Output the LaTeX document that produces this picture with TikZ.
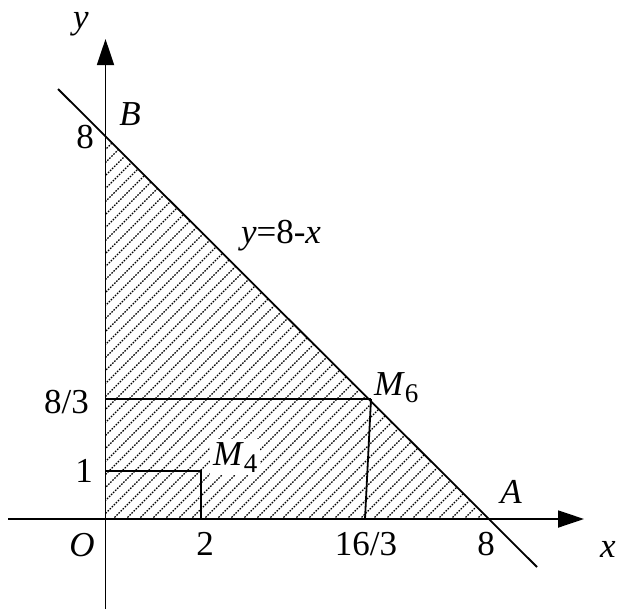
\documentclass[tikz,border=0pt]{standalone}
\usepackage{fontspec}
\setmainfont{Liberation Serif}
\usetikzlibrary{arrows.meta}
\tikzset{
  axis/.style={line width=1.8pt,-{Triangle[length=26pt,width=17pt]}},
  edge/.style={line width=1.8pt},
  hatchline/.style={line width=1.2pt,dash pattern=on 1.6pt off 1.3pt},
  lbl/.style={font=\fontsize{35pt}{36pt}\selectfont,inner sep=0pt},
}
\newcommand{\subsc}[1]{\raisebox{-7pt}{\fontsize{27pt}{27pt}\selectfont #1}}
\begin{document}
\begin{tikzpicture}[x=1pt,y=-1pt]
\fill[white] (0,0) rectangle (617,611);
\useasboundingbox (0,0) rectangle (617,611);
% key points
\coordinate (O) at (105.5,519);
\coordinate (A) at (488,519);
\coordinate (B) at (105.5,136.5);
\coordinate (M6) at (371,399);
\coordinate (K) at (105.5,399);
\coordinate (F) at (365,519);
\coordinate (P1) at (105.5,471);
\coordinate (P2) at (201,471);
\coordinate (P3) at (201,519);
\coordinate (Xs) at (8,519);
\coordinate (Xe) at (584,519);
\coordinate (Ys) at (105.5,609);
\coordinate (Ye) at (105.5,39);
\coordinate (Ls) at (58,89);
\coordinate (Le) at (537,567);
% hatching
\begin{scope}
\clip (O) -- (A) -- (B) -- cycle;
\foreach \c in {242,255,...,1010}
  \draw[hatchline] (\c-700,700) -- (\c,0);
\end{scope}
% M4 label with white background
\node[lbl,fill=white,inner sep=3pt,anchor=base west] (m4) at (210,465) {\textit{M}\subsc{4}};
% axes
\draw[axis] (Xs) -- (Xe);
\draw[axis] (Ys) -- (Ye);
% lines
\draw[edge] (Ls) -- (Le);
\draw[edge] (K) -- (M6);
\draw[edge] (M6) -- (F);
\draw[edge] (P1) -- (P2) -- (P3);
% labels
\node[lbl,anchor=base] (ly) at (81,28) {\textit{y}};
\node[lbl,anchor=base] (lx) at (608,557) {\textit{x}};
\node[lbl,anchor=base] (lB) at (130,125) {\textit{B}};
\node[lbl,anchor=base] (lA) at (511,503) {\textit{A}};
\node[lbl,anchor=base] (lO) at (82,556) {\textit{O}};
\node[lbl,anchor=base] (l8y) at (85,148) {8};
\node[lbl,anchor=base east] (l83) at (89,413) {8/3};
\node[lbl,anchor=base] (l1) at (84,482) {1};
\node[lbl,anchor=base] (l2) at (205,555) {2};
\node[lbl,anchor=base] (l163) at (366,555) {16/3};
\node[lbl,anchor=base] (l8x) at (486,555) {8};
\node[lbl,anchor=base] (leq) at (281,243) {\textit{y}=8-\textit{x}};
\node[lbl,anchor=base west] (m6) at (374,395) {\textit{M}\subsc{6}};
\end{tikzpicture}
\end{document}
